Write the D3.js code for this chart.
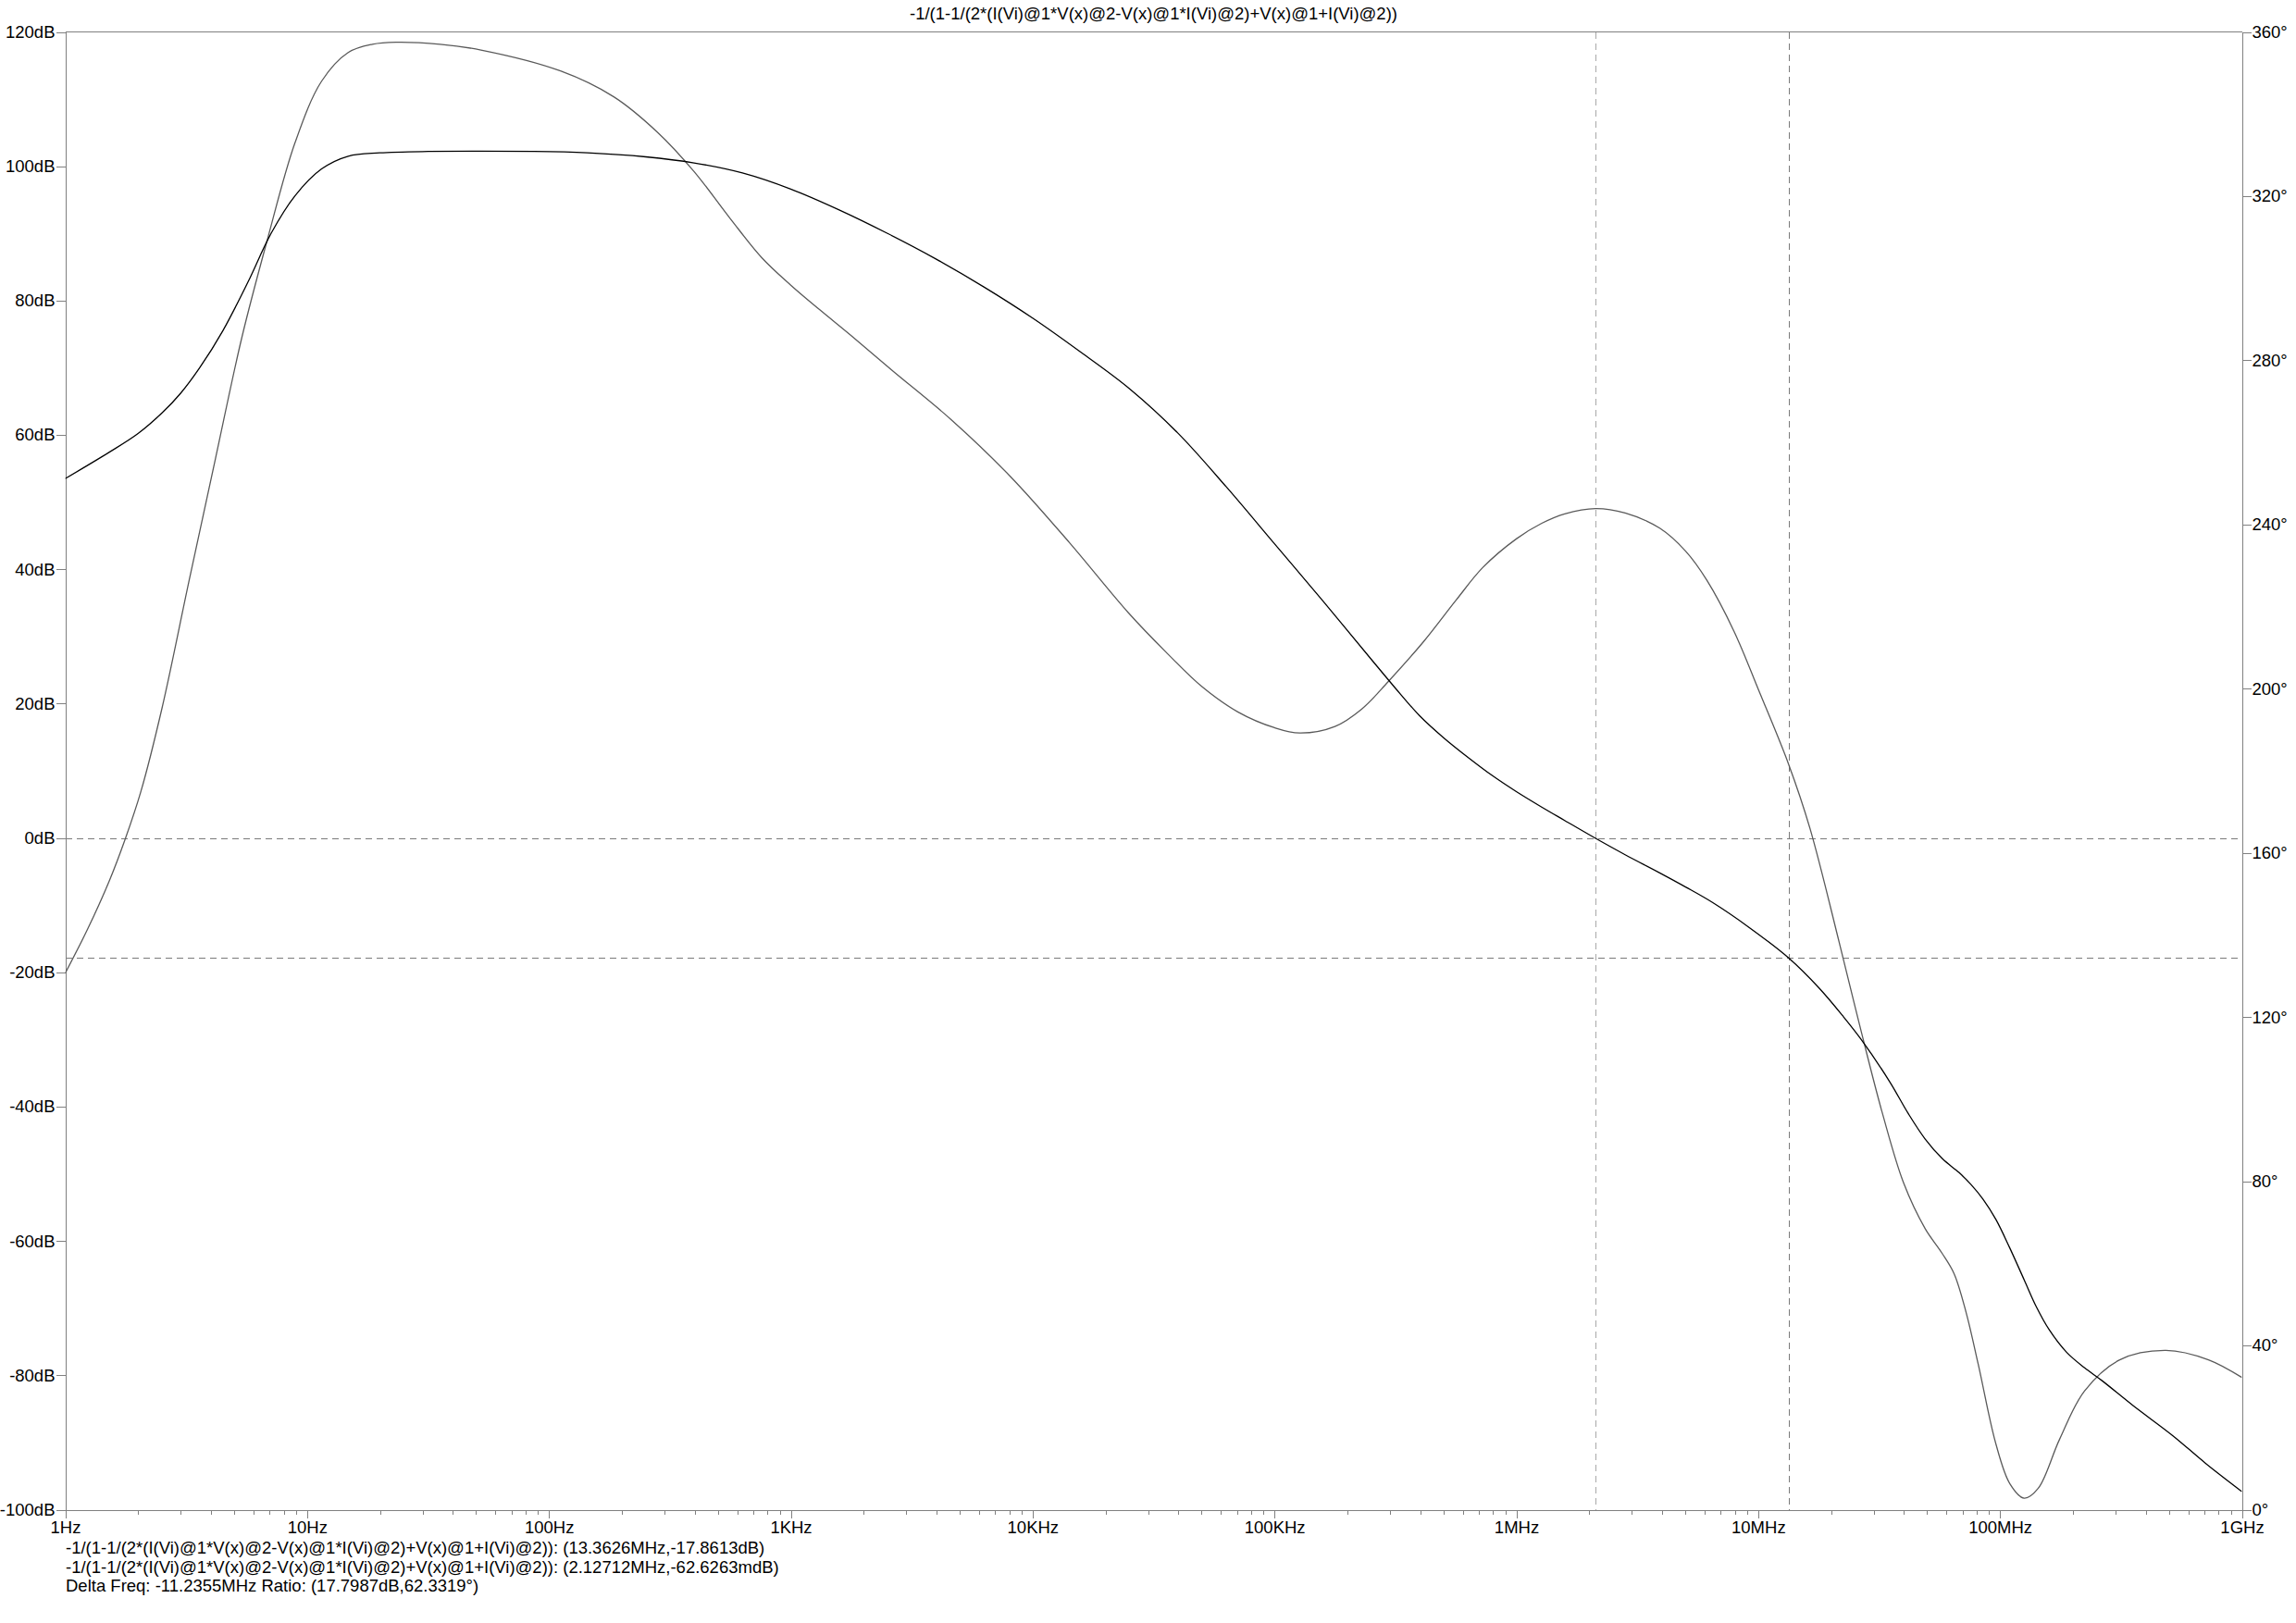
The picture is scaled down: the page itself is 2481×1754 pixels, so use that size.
<!DOCTYPE html>
<html><head><meta charset="utf-8">
<script src="https://cdn.jsdelivr.net/npm/d3@7"></script>
<style>
body{margin:0;background:#fff}
svg{display:block}
text{font-family:"Liberation Sans",Arial,sans-serif;font-size:18.5px;fill:#000}
</style>
</head><body>
<svg id="chart" width="2481" height="1754"></svg>
<script>
const TITLE = "-1/(1-1/(2*(I(Vi)@1*V(x)@2-V(x)@1*I(Vi)@2)+V(x)@1+I(Vi)@2))";
const xTickValues = [1,10,100,1e3,1e4,1e5,1e6,1e7,1e8,1e9];
const xTickLabels = ["1Hz","10Hz","100Hz","1KHz","10KHz","100KHz","1MHz","10MHz","100MHz","1GHz"];
const dbTicks = [120,100,80,60,40,20,0,-20,-40,-60,-80,-100];
const degTicks = [0,40,80,120,160,200,240,280,320,360];

// magnitude (dB)
const magFreq = [1,1.517,2.0,2.518,3.0,3.597,4.498,5.702,7.096,8.913,11.48,14.79,19.95,31.62,86.9,143.9,251.2,398.1,631.0,1000,1585,2512,3981,6310,10000,15850,25120,39810,63100,100000,158500,251200,316200,398100,501200,631000,794300,1e6,1.259e6,1.585e6,2.12712e6,2.818e6,3.917e6,5.012e6,6.471e6,9.08e6,13.3626e6,17.82e6,22.39e6,26.67e6,34.99e6,41.69e6,48.98e6,57.94e6,67.61e6,75.86e6,85.11e6,96.16e6,109.6e6,125.9e6,141.3e6,159.6e6,188.8e6,223.9e6,264.2e6,354.8e6,518.8e6,707.9e6,1e9];
const magDb = [53.5,57.4,60.2,63.3,66.2,70.0,75.6,82.8,90.0,95.6,99.6,101.5,102.0,102.2,102.2,102.0,101.4,100.5,99.0,96.6,93.5,90.0,86.2,82.0,77.4,72.3,66.9,60.3,52.3,43.8,35.3,26.6,22.3,18.2,14.9,12.0,9.3,6.9,4.7,2.6,-0.063,-2.5,-5.2,-7.3,-9.6,-13.2,-17.86,-22.3,-26.5,-30.0,-36.3,-41.0,-44.8,-47.8,-49.8,-51.6,-53.8,-56.8,-61.0,-65.8,-69.8,-73.2,-76.6,-78.9,-80.8,-84.5,-89.0,-93.1,-97.3];

// phase (degrees)
const phaseFreq = [1,1.239,1.517,1.766,2.056,2.518,3.243,4.178,5.370,6.823,8.913,11.48,14.79,18.62,23.33,35.48,52.36,111.7,185.4,281.8,398.1,562.3,758.6,1000,1318,1778,2630,4613,8091,14190,24890,35480,50120,70790,100000,127100,177800,229100,295100,414000,562300,726100,1e6,1.274e6,1.585e6,2.12712e6,2.818e6,3.917e6,5.012e6,6.138e6,7.943e6,10.07e6,13.3626e6,16.37e6,21.78e6,26.67e6,32.66e6,39.99e6,48.98e6,57.54e6,64.57e6,72.44e6,81.28e6,96.16e6,109.9e6,125.9e6,143.9e6,176.2e6,223.4e6,312.6e6,485.3e6,727.8e6,1e9];
const phaseDeg = [130.7,141.5,153.0,163.2,175.0,195.5,226.0,256.0,285.5,309.0,333.0,348.0,355.0,357.0,357.5,357.0,355.6,350.5,344.2,335.5,326.0,314.5,305.0,298.3,292.3,286.0,277.5,265.5,251.7,235.6,218.5,209.0,200.5,194.3,190.5,189.2,190.8,195.0,201.7,211.5,221.5,229.5,236.5,240.3,242.6,243.9,242.8,239.1,233.5,226.4,214.0,199.5,181.6,166.0,137.5,116.5,96.5,79.5,68.5,62.5,57.5,48.0,35.4,16.0,6.3,2.8,5.2,17.1,28.9,36.5,38.8,36.5,32.2];

// cursors
const cursorFreq = [13.3626e6, 2.12712e6];
const cursorDb = [-17.8613, -0.0626263];
const cursorLines = [
  TITLE + ": (13.3626MHz,-17.8613dB)",
  TITLE + ": (2.12712MHz,-62.6263mdB)",
  "Delta Freq: -11.2355MHz Ratio: (17.7987dB,62.3319°)"
];

const L = 70.5, R = 2422.5, T = 34.5, B = 1631.5;
const svg = d3.select("#chart");
const x = d3.scaleLog().domain([1,1e9]).range([L,R]);
const yDb = d3.scaleLinear().domain([-100,120]).range([B,T]);
const yDeg = d3.scaleLinear().domain([0,360]).range([B,T]);
const axisColor = "#808080";

// title
svg.append("text").attr("x",(L+R)/2).attr("y",21).attr("text-anchor","middle").text(TITLE);

// cursor dashed lines
const cur = svg.append("g").attr("fill","none").attr("stroke-width",1).attr("shape-rendering","crispEdges");
cursorDb.forEach((v,i)=>{
  const yy = Math.round(yDb(v))+0.5;
  cur.append("line").attr("x1",L).attr("x2",R).attr("y1",yy).attr("y2",yy)
    .attr("stroke","#7a7a7a").attr("stroke-dasharray","7,5");
});
cursorFreq.forEach((f,i)=>{
  const xx = Math.round(x(f))+0.5;
  cur.append("line").attr("x1",xx).attr("x2",xx).attr("y1",T).attr("y2",B)
    .attr("stroke", i===0 ? "#7a7a7a" : "#a8a8a8").attr("stroke-dasharray","7,5");
});

// left axis
const gL = svg.append("g").attr("transform",`translate(${L},0)`)
  .call(d3.axisLeft(yDb).tickValues(dbTicks).tickFormat(d=>d+"dB").tickSize(10).tickSizeOuter(0).tickPadding(1));
// right axis
const gR = svg.append("g").attr("transform",`translate(${R},0)`)
  .call(d3.axisRight(yDeg).tickValues(degTicks).tickFormat(d=>d+"°").tickSize(10).tickSizeOuter(0).tickPadding(1));
// bottom axis: major + minor ticks
const minor = [];
for (let e=0;e<9;e++) for (let m=2;m<=9;m++) minor.push(m*Math.pow(10,e));
const gBm = svg.append("g").attr("transform",`translate(0,${B})`)
  .call(d3.axisBottom(x).tickValues(minor).tickFormat("").tickSize(5).tickSizeOuter(0));
const gB = svg.append("g").attr("transform",`translate(0,${B})`)
  .call(d3.axisBottom(x).tickValues(xTickValues).tickFormat((d,i)=>xTickLabels[i]).tickSize(9).tickSizeOuter(0).tickPadding(2));
[gL,gR,gB,gBm].forEach(g=>{
  g.selectAll("path,line").attr("stroke",axisColor).attr("shape-rendering","crispEdges");
  g.selectAll("text").attr("font-family",null).attr("font-size",null).style("font-size","18.5px").attr("fill","#000");
});
gB.selectAll("text").attr("dy","0.8em");
// top border
svg.append("line").attr("x1",L).attr("x2",R).attr("y1",T).attr("y2",T)
  .attr("stroke",axisColor).attr("shape-rendering","crispEdges");

// curves
svg.append("clipPath").attr("id","pc").append("rect")
  .attr("x",L).attr("y",T-2).attr("width",R-L).attr("height",B-T+4);
const magLine = d3.line().x(d=>x(d[0])).y(d=>yDb(d[1])).curve(d3.curveCatmullRom.alpha(0.5));
const phLine = d3.line().x(d=>x(d[0])).y(d=>yDeg(d[1])).curve(d3.curveCatmullRom.alpha(0.5));
const plot = svg.append("g").attr("clip-path","url(#pc)");
plot.append("path").datum(phaseFreq.map((f,i)=>[f,phaseDeg[i]]))
  .attr("d",phLine).attr("fill","none").attr("stroke","#5a5a5a").attr("stroke-width",1.3);
plot.append("path").datum(magFreq.map((f,i)=>[f,magDb[i]]))
  .attr("d",magLine).attr("fill","none").attr("stroke","#000").attr("stroke-width",1.3);

// cursor readout text
cursorLines.forEach((t,i)=>{
  svg.append("text").attr("x",71).attr("y",1679+i*20.5).text(t);
});
</script>
</body></html>
